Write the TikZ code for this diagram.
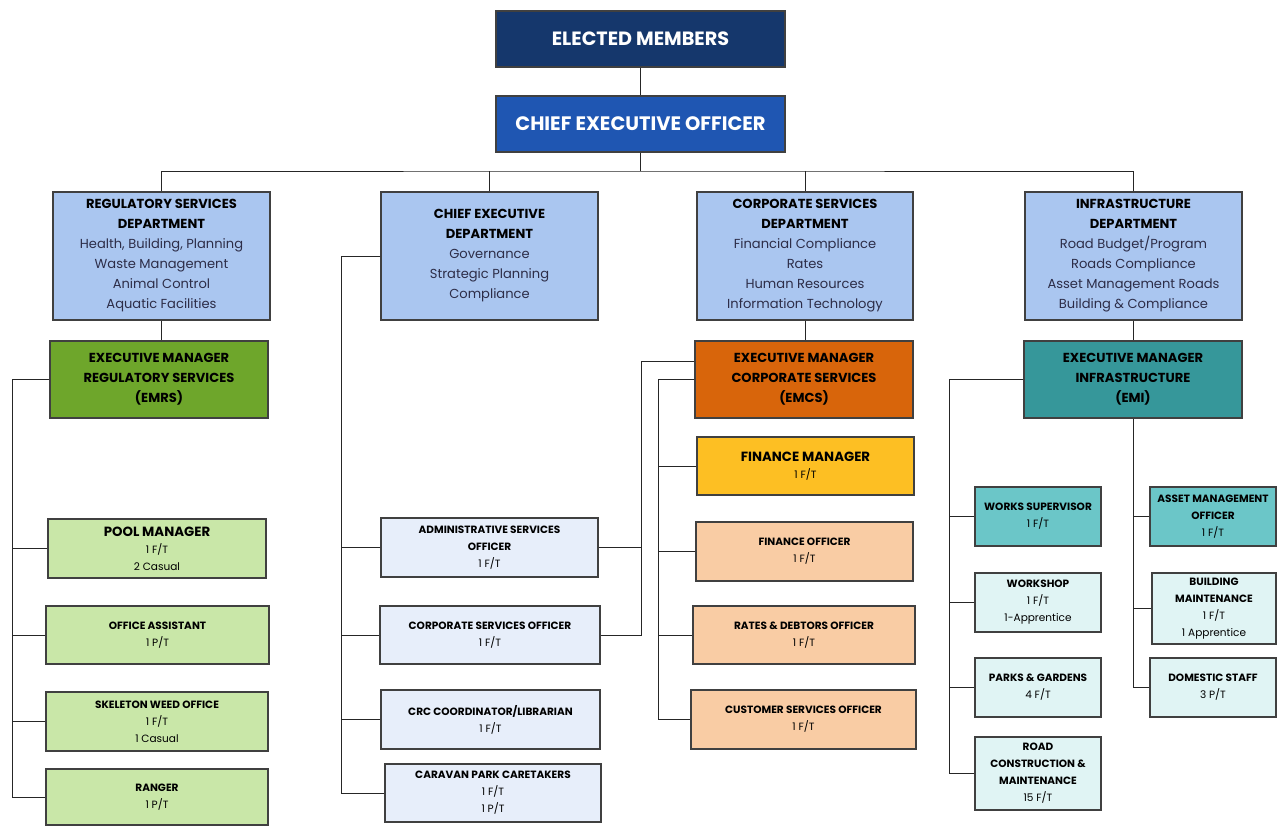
\documentclass[tikz,border=0pt]{standalone}
\usepackage{fontspec}
\setmainfont{Poppins}

%% couleurs
\definecolor{marine}{RGB}{21,55,108}
\definecolor{bleuceo}{RGB}{31,86,178}
\definecolor{bleudept}{RGB}{170,198,240}
\definecolor{textebleu}{RGB}{45,45,72}
\definecolor{vert}{RGB}{110,166,43}
\definecolor{vertclair}{RGB}{201,231,168}
\definecolor{bleupale}{RGB}{231,238,250}
\definecolor{orange}{RGB}{216,101,11}
\definecolor{jaune}{RGB}{253,191,35}
\definecolor{peche}{RGB}{249,204,164}
\definecolor{canard}{RGB}{54,151,154}
\definecolor{turquoise}{RGB}{107,198,200}
\definecolor{eaupale}{RGB}{224,244,244}

\newcommand{\grand}[1]{{\fontsize{10}{12.75}\selectfont\bfseries #1}}

\begin{document}
\begin{tikzpicture}[x=0.75pt,y=-0.75pt,
  boite/.style={draw=black!75, line width=0.8pt, inner sep=0pt, align=center},
  taille/.style 2 args={minimum width=#1*0.75pt, minimum height=#2*0.75pt},
  haut/.style={boite, text=white, font=\fontsize{14.4}{16}\selectfont\bfseries},
  dept/.style={boite, fill=bleudept, text=textebleu, font=\fontsize{9.8}{15}\selectfont},
  chef/.style={boite, text=black, font=\fontsize{9.8}{15}\selectfont\bfseries},
  poste/.style={boite, text=black, font=\fontsize{7.9}{12.75}\selectfont},
  lien/.style={draw=black!85, line width=0.7pt}]

\useasboundingbox[fill=white] (0,0) rectangle (1277,825);

%% le haut
\node[haut, fill=marine, taille={289}{56}] (em) at (640.5,39) {ELECTED MEMBERS};
\node[haut, fill=bleuceo, taille={289}{56}, font=\fontsize{14.6}{16}\selectfont\bfseries] (ceo) at (640.5,124) {CHIEF EXECUTIVE OFFICER};

%% les départements
\node[dept, taille={217}{128}] (reg) at (161.5,256) {\textcolor{black}{\textbf{REGULATORY SERVICES}}\\\textcolor{black}{\textbf{DEPARTMENT}}\\Health, Building, Planning\\Waste Management\\Animal Control\\Aquatic Facilities};
\node[dept, taille={217}{128}] (ced) at (489.5,256) {\textcolor{black}{\textbf{CHIEF EXECUTIVE}}\\\textcolor{black}{\textbf{DEPARTMENT}}\\Governance\\Strategic Planning\\Compliance};
\node[dept, taille={216}{128}] (corp) at (805,256) {\textcolor{black}{\textbf{CORPORATE SERVICES}}\\\textcolor{black}{\textbf{DEPARTMENT}}\\Financial Compliance\\Rates\\Human Resources\\Information Technology};
\node[dept, taille={217}{128}] (infra) at (1133.5,256) {\textcolor{black}{\textbf{INFRASTRUCTURE}}\\\textcolor{black}{\textbf{DEPARTMENT}}\\Road Budget/Program\\Roads Compliance\\Asset Management Roads\\Building \& Compliance};

%% les executive managers
\node[chef, fill=vert, taille={218}{77}] (emrs) at (159,379.5) {EXECUTIVE MANAGER\\REGULATORY SERVICES\\(EMRS)};
\node[chef, fill=orange, taille={218}{77}] (emcs) at (804,379.5) {EXECUTIVE MANAGER\\CORPORATE SERVICES\\(EMCS)};
\node[chef, fill=canard, taille={218}{77}] (emi) at (1133,379.5) {EXECUTIVE MANAGER\\INFRASTRUCTURE\\(EMI)};

%% postes regulatory
\node[poste, fill=vertclair, taille={218}{59}] (pool) at (157,548.5) {\grand{POOL MANAGER}\\1 F/T\\2 Casual};
\node[poste, fill=vertclair, taille={223}{58}] (office) at (157.5,635) {\textbf{OFFICE ASSISTANT}\\1 P/T};
\node[poste, fill=vertclair, taille={222}{59}] (weed) at (157,721.5) {\textbf{SKELETON WEED OFFICE}\\1 F/T\\1 Casual};
\node[poste, fill=vertclair, taille={222}{56}] (ranger) at (157,797) {\textbf{RANGER}\\1 P/T};

%% postes chief executive
\node[poste, fill=bleupale, taille={217}{59}] (admin) at (489.5,547.5) {\textbf{ADMINISTRATIVE SERVICES}\\\textbf{OFFICER}\\1 F/T};
\node[poste, fill=bleupale, taille={220}{58}] (cso) at (490,635) {\textbf{CORPORATE SERVICES OFFICER}\\1 F/T};
\node[poste, fill=bleupale, taille={219}{59}] (crc) at (490.5,719.5) {\textbf{CRC COORDINATOR/LIBRARIAN}\\1 F/T};
\node[poste, fill=bleupale, taille={216}{58}] (caravan) at (493,793) {\textbf{CARAVAN PARK CARETAKERS}\\1 F/T\\1 P/T};

%% postes corporate
\node[poste, fill=jaune, taille={217}{58}] (finmgr) at (805.5,466) {\grand{FINANCE MANAGER}\\1 F/T};
\node[poste, fill=peche, taille={217}{59}] (finoff) at (804.5,551.5) {\textbf{FINANCE OFFICER}\\1 F/T};
\node[poste, fill=peche, taille={222}{58}] (rates) at (804,635) {\textbf{RATES \& DEBTORS OFFICER}\\1 F/T};
\node[poste, fill=peche, taille={225}{59}] (cust) at (803.5,719.5) {\textbf{CUSTOMER SERVICES OFFICER}\\1 F/T};

%% postes infrastructure
\node[poste, fill=turquoise, taille={126}{59}] (works) at (1038,516.5) {\textbf{WORKS SUPERVISOR}\\1 F/T};
\node[poste, fill=eaupale, taille={126}{59}] (workshop) at (1038,602.5) {\textbf{WORKSHOP}\\1 F/T\\1-Apprentice};
\node[poste, fill=eaupale, taille={126}{59}] (parks) at (1038,687.5) {\textbf{PARKS \& GARDENS}\\4 F/T};
\node[poste, fill=eaupale, taille={126}{73}] (road) at (1038,773.5) {\textbf{ROAD}\\\textbf{CONSTRUCTION \&}\\\textbf{MAINTENANCE}\\15 F/T};
\node[poste, fill=turquoise, taille={126}{59}] (asset) at (1213,516.5) {\textbf{ASSET MANAGEMENT}\\\textbf{OFFICER}\\1 F/T};
\node[poste, fill=eaupale, taille={124}{71}] (bldg) at (1214,608.5) {\textbf{BUILDING}\\\textbf{MAINTENANCE}\\1 F/T\\1 Apprentice};
\node[poste, fill=eaupale, taille={126}{59}] (domestic) at (1213,687.5) {\textbf{DOMESTIC STAFF}\\3 P/T};

%% liens du haut
\draw[lien] (em) -- (ceo);
\coordinate (bus) at (640.5,171);
\draw[lien] (ceo) -- (bus);
\draw[lien] (reg.north) |- (bus) -| (infra.north);
\draw[lien] (ced.north) -- (ced.north |- bus);
\draw[lien] (corp.north) -- (corp.north |- bus);
\draw[lien] (reg.south) -- (reg.south |- emrs.north);
\draw[lien] (corp.south) -- (corp.south |- emcs.north);
\draw[lien] (infra.south) -- (infra.south |- emi.north);

%% regulatory
\coordinate (trg) at (12,379.5);
\draw[lien] (emrs.west) -- (trg) |- (ranger.west);
\foreach \n in {pool,office,weed}
  \draw[lien] (\n.west) -- (\n.west -| trg);

%% chief executive
\coordinate (tced) at (341,256);
\draw[lien] (ced.west) -- (tced) |- (caravan.west);
\foreach \n in {admin,cso,crc}
  \draw[lien] (\n.west) -- (\n.west -| tced);

%% corporate
\coordinate (tcs) at (641,361);
\draw[lien] (emcs.west |- tcs) -- (tcs) |- (cso.east);
\draw[lien] (admin.east) -- (admin.east -| tcs);
\coordinate (tfin) at (658,379.5);
\draw[lien] (emcs.west) -- (tfin) |- (cust.west);
\foreach \n in {finmgr,finoff,rates}
  \draw[lien] (\n.west) -- (\n.west -| tfin);

%% infrastructure
\coordinate (tinf) at (949,379.5);
\draw[lien] (emi.west) -- (tinf) |- (road.west);
\foreach \n in {works,workshop,parks}
  \draw[lien] (\n.west) -- (\n.west -| tinf);
\draw[lien] (emi.south) |- (domestic.west);
\foreach \n in {asset,bldg}
  \draw[lien] (\n.west) -- (\n.west -| emi.south);

\end{tikzpicture}
\end{document}
